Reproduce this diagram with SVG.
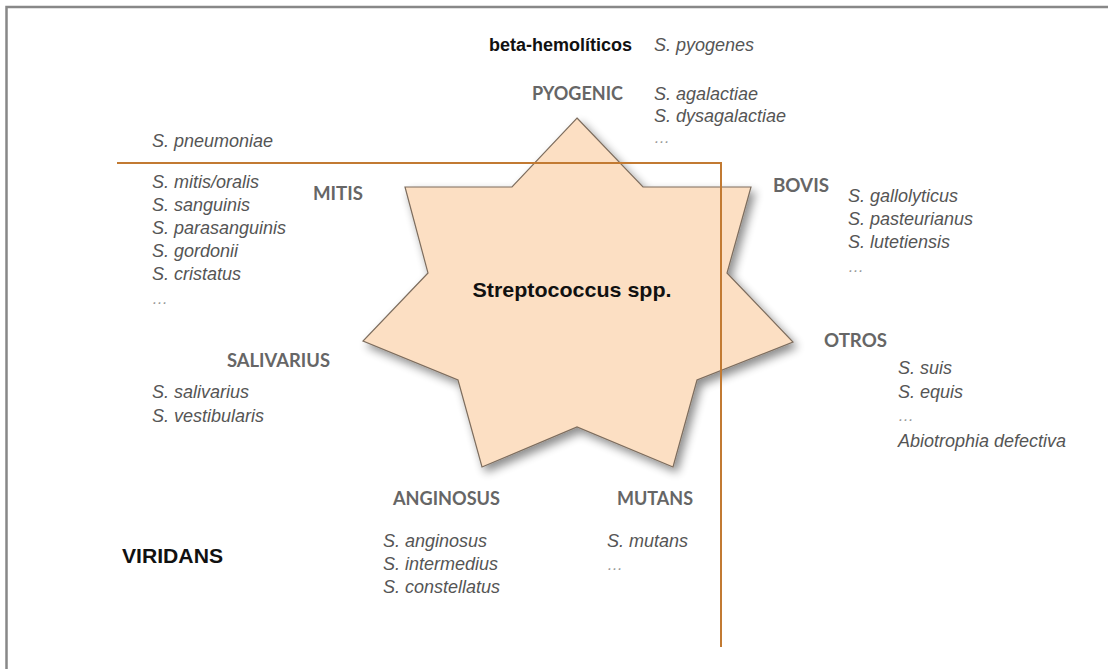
<svg xmlns="http://www.w3.org/2000/svg" width="1108" height="669" viewBox="0 0 1108 669">
<defs>
<filter id="shadow" x="-20%" y="-20%" width="140%" height="140%">
<feGaussianBlur in="SourceAlpha" stdDeviation="5"/>
<feOffset dx="4" dy="5" result="b"/>
<feComponentTransfer><feFuncA type="linear" slope="0.45"/></feComponentTransfer>
<feMerge><feMergeNode/><feMergeNode in="SourceGraphic"/></feMerge>
</filter>
</defs>
<style>
.head{font-family:Lato,"Open Sans","Liberation Sans",sans-serif;font-weight:bold;font-size:18px;fill:#666}
.sp{font-family:"Liberation Sans",Arial,sans-serif;font-style:italic;font-size:18px;fill:#555}
.dots{font-family:"Liberation Sans",Arial,sans-serif;font-style:italic;font-size:16px;fill:#999}
.blk{font-family:"Liberation Sans",Arial,sans-serif;font-weight:bold;fill:#111}
.frame{stroke:#888;stroke-width:2.5;fill:none}
.divider{stroke:#C27A32;stroke-width:2;fill:none}
</style>
<rect width="1108" height="669" fill="#fff"/>
<path class="frame" d="M6.5,669 V7 H1108"/>

<g id="star">
<polygon points="577,118 643,187 751,187 727,273 793,342 697,380 673,467 577,427 482,467 458,380 363,341 428,273 405,187 512,187" fill="#FCDFC3" stroke="#7D6D5E" stroke-width="1.2" filter="url(#shadow)"/>
<text class="blk" x="572" y="297" font-size="21" text-anchor="middle" textLength="199" lengthAdjust="spacingAndGlyphs">Streptococcus spp.</text>
</g>

<g id="connectors">
<path class="divider" d="M117,163 H721 V647"/>
</g>

<g id="beta-hemoliticos">
<text class="blk" x="632" y="51" font-size="18" text-anchor="end">beta-hemolíticos</text>
<text class="sp" x="654" y="51">S. pyogenes</text>
</g>

<g id="pyogenic">
<text class="head" x="623" y="100" text-anchor="end" textLength="91" lengthAdjust="spacingAndGlyphs">PYOGENIC</text>
<text class="sp" x="654" y="100">S. agalactiae</text>
<text class="sp" x="654" y="122">S. dysagalactiae</text>
<text class="dots" x="654" y="143">…</text>
</g>

<g id="pneumoniae">
<text class="sp" x="152" y="147">S. pneumoniae</text>
</g>

<g id="mitis">
<text class="head" x="313" y="200" textLength="50" lengthAdjust="spacingAndGlyphs">MITIS</text>
<text class="sp" x="152" y="188">S. mitis/oralis</text>
<text class="sp" x="152" y="211">S. sanguinis</text>
<text class="sp" x="152" y="234">S. parasanguinis</text>
<text class="sp" x="152" y="257">S. gordonii</text>
<text class="sp" x="152" y="280">S. cristatus</text>
<text class="dots" x="152" y="304">…</text>
</g>

<g id="bovis">
<text class="head" x="773" y="192" textLength="56" lengthAdjust="spacingAndGlyphs">BOVIS</text>
<text class="sp" x="848" y="202">S. gallolyticus</text>
<text class="sp" x="848" y="225">S. pasteurianus</text>
<text class="sp" x="848" y="248">S. lutetiensis</text>
<text class="dots" x="848" y="272">…</text>
</g>

<g id="otros">
<text class="head" x="824" y="347" textLength="63" lengthAdjust="spacingAndGlyphs">OTROS</text>
<text class="sp" x="898" y="374">S. suis</text>
<text class="sp" x="898" y="398">S. equis</text>
<text class="dots" x="898" y="421">…</text>
<text class="sp" x="898" y="447">Abiotrophia defectiva</text>
</g>

<g id="salivarius">
<text class="head" x="227" y="367" textLength="103" lengthAdjust="spacingAndGlyphs">SALIVARIUS</text>
<text class="sp" x="152" y="398">S. salivarius</text>
<text class="sp" x="152" y="422">S. vestibularis</text>
</g>

<g id="anginosus">
<text class="head" x="393" y="505" textLength="107" lengthAdjust="spacingAndGlyphs">ANGINOSUS</text>
<text class="sp" x="383" y="547">S. anginosus</text>
<text class="sp" x="383" y="570">S. intermedius</text>
<text class="sp" x="383" y="593">S. constellatus</text>
</g>

<g id="mutans">
<text class="head" x="617" y="505" textLength="76" lengthAdjust="spacingAndGlyphs">MUTANS</text>
<text class="sp" x="607" y="547">S. mutans</text>
<text class="dots" x="607" y="570">…</text>
</g>

<g id="viridans">
<text class="blk" x="122" y="563" font-size="21" textLength="101" lengthAdjust="spacingAndGlyphs">VIRIDANS</text>
</g>
</svg>
